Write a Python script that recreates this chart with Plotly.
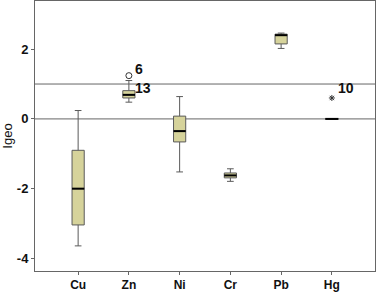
import plotly.graph_objects as go

metals = ["Cu", "Zn", "Ni", "Cr", "Pb", "Hg"]
lower = [-3.64, 0.48, -1.52, -1.79, 2.02, 0.0]
q1 = [-3.04, 0.60, -0.66, -1.69, 2.15, 0.0]
median = [-2.00, 0.69, -0.35, -1.62, 2.40, 0.0]
q3 = [-0.90, 0.81, 0.08, -1.55, 2.43, 0.0]
upper = [0.24, 1.10, 0.64, -1.43, 2.46, 0.0]

outlier_metal = ["Zn", "Hg"]
outlier_value = [1.24, 0.60]
outlier_symbol = ["circle-open", "asterisk-open"]
label_metal = ["Zn", "Zn", "Hg"]
label_value = [1.42, 0.90, 0.90]
label_text = ["6", "13", "10"]
ref_lines = [0, 1]

xi = {m: i for i, m in enumerate(metals)}
fill = "#d6d39b"
fig = go.Figure()
for i, m in enumerate(metals):
    fig.add_trace(go.Box(
        x=[i], q1=[q1[i]], median=[median[i]], q3=[q3[i]],
        lowerfence=[lower[i]], upperfence=[upper[i]],
        fillcolor=fill, line=dict(color="#5a5a5a", width=1),
        width=0.24, whiskerwidth=0.55, showlegend=False, hoverinfo="skip"))
    hw = 0.13 if m == "Hg" else 0.12
    fig.add_trace(go.Scatter(
        x=[i - hw, i + hw], y=[median[i], median[i]], mode="lines",
        line=dict(color="black", width=2), showlegend=False, hoverinfo="skip"))

for m, v, s in zip(outlier_metal, outlier_value, outlier_symbol):
    fig.add_trace(go.Scatter(
        x=[xi[m]], y=[v], mode="markers",
        marker=dict(symbol=s, size=6 if s.startswith("circle") else 5,
                    color="#333", line=dict(width=1, color="#333")),
        showlegend=False, hoverinfo="skip"))

for m, v, t in zip(label_metal, label_value, label_text):
    fig.add_annotation(x=xi[m] + 0.08, y=v, text="<b>%s</b>" % t, showarrow=False,
                       xanchor="left", yanchor="middle",
                       font=dict(family="Liberation Sans, Arial", size=14, color="#111"))

for r in ref_lines:
    fig.add_shape(type="line", xref="paper", x0=0, x1=1, y0=r, y1=r,
                  line=dict(color="#666", width=1), layer="below")

fig.update_layout(
    width=377, height=293, margin=dict(l=35, r=2, t=1, b=22, autoexpand=False),
    paper_bgcolor="white", plot_bgcolor="white",
    font=dict(family="Liberation Sans, Arial", size=13, color="#111"),
    xaxis=dict(range=[-0.85, 5.85], tickvals=list(range(len(metals))), ticktext=["<b>%s</b>" % m for m in metals],
               showgrid=False, zeroline=False, showline=True, linecolor="#666", mirror=True,
               ticks="outside", ticklen=3, tickcolor="#666", automargin=False,
               tickfont=dict(size=12)),
    yaxis=dict(range=[-4.36, 3.38], tickvals=[-4, -2, 0, 2], ticktext=["<b>-4</b>", "<b>-2</b>", "<b>0</b>", "<b>2</b>"],
               showgrid=False, zeroline=False, showline=True, linecolor="#666", mirror=True,
               ticks="outside", ticklen=3, tickcolor="#666", automargin=False,
               title=dict(text="Igeo", standoff=4, font=dict(size=13))),
)
fig.write_html("out.html", config={"displayModeBar": False},
               post_script="document.body.style.margin='0';document.body.style.overflow='hidden';")
